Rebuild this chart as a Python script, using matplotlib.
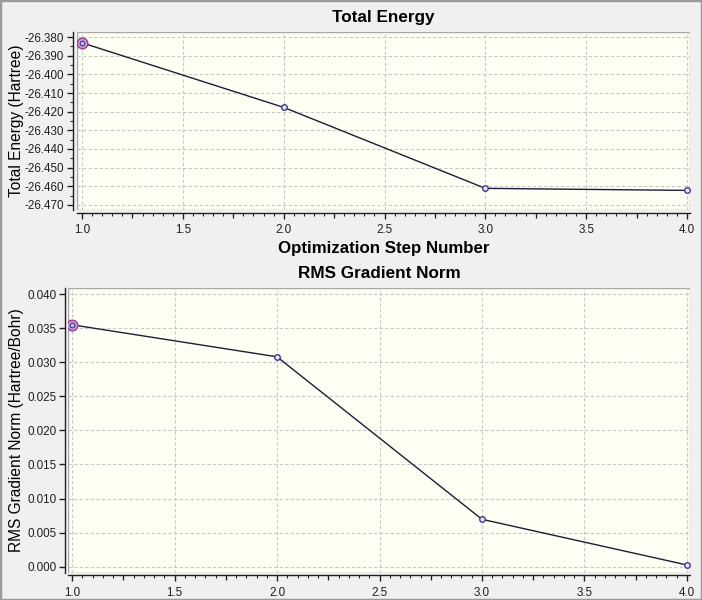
import matplotlib
matplotlib.use("Agg")
import matplotlib.pyplot as plt
from matplotlib.patches import Rectangle
from matplotlib.ticker import MultipleLocator, FormatStrFormatter, NullLocator, NullFormatter
from matplotlib.transforms import blended_transform_factory

plt.rcParams['font.family'] = ['Liberation Sans', 'DejaVu Sans']

steps = [1, 2, 3, 4]
energy = [-26.3831, -26.4177, -26.4611, -26.4622]
rms_grad = [0.0355, 0.0308, 0.00695, 0.00025]

title_top = "Total Energy"
title_bot = "RMS Gradient Norm"
xlabel_top = "Optimization Step Number"
ylabel_top = "Total Energy (Hartree)"
ylabel_bot = "RMS Gradient Norm (Hartree/Bohr)"

W, H = 702, 600
fig = plt.figure(figsize=(W / 100, H / 100), dpi=100)
fig.patch.set_facecolor('#f0f0f0')
fig.add_artist(Rectangle((0, 0), 1, 1, transform=fig.transFigure, fill=False,
                         edgecolor='#9a9a9a', linewidth=2.5))

def px(l, t, r, b):
    return [l / W, 1 - b / H, (r - l) / W, (b - t) / H]

ax1 = fig.add_axes(px(77, 32, 690, 210))
ax2 = fig.add_axes(px(68, 288, 690, 573))

line_col = '#1c1c3a'
pt_col = '#3a3a9a'
first_col = '#a0409a'
tick_col = '#202020'
TS = 8.4

def style(ax, off_left, off_bottom):
    ax.set_facecolor('none')
    ax.add_patch(Rectangle((0, 0), 1, 1, transform=ax.transAxes, facecolor='#fffff4',
                           edgecolor='#a8a8a8', linewidth=1.0, zorder=0))
    for s in ['top', 'right']:
        ax.spines[s].set_visible(False)
    ax.spines['left'].set_position(('outward', off_left))
    ax.spines['bottom'].set_position(('outward', off_bottom))
    for s in ['left', 'bottom']:
        ax.spines[s].set_color(tick_col)
        ax.spines[s].set_linewidth(1.0)
    ax.grid(True, which='major', linestyle=(0, (3, 2)), color='#c8c8c8', linewidth=0.8)
    ax.set_axisbelow(True)
    ax.xaxis.set_major_locator(MultipleLocator(0.5))
    ax.xaxis.set_minor_locator(MultipleLocator(0.05))
    ax.xaxis.set_major_formatter(FormatStrFormatter('%.1f'))
    ax.tick_params(axis='both', which='major', labelsize=TS, colors=tick_col,
                   length=4.0, width=1.0, pad=2.5)
    ax.tick_params(axis='x', which='major', length=4.5, pad=3.6)
    ax.tick_params(axis='x', which='minor', length=2.3, width=0.8, colors=tick_col)
    sec = ax.secondary_xaxis('bottom')
    sec.spines['bottom'].set_position(('outward', off_bottom))
    sec.spines['bottom'].set_visible(False)
    sec.set_xticks([1.25, 1.75, 2.25, 2.75, 3.25, 3.75])
    sec.xaxis.set_major_formatter(NullFormatter())
    sec.xaxis.set_minor_locator(NullLocator())
    sec.tick_params(axis='x', which='major', length=3.3, width=0.9, colors=tick_col)

def plot_series(ax, x, y):
    ax.plot(x, y, color=line_col, linewidth=1.0, zorder=3)
    ax.plot(x[1:], y[1:], linestyle='none', marker='o', markersize=4,
            markerfacecolor='#e8e8ff', markeredgecolor=pt_col, markeredgewidth=1.0, zorder=4)
    ax.plot(x[:1], y[:1], linestyle='none', marker='o', markersize=7.5,
            markerfacecolor='#d8b8e0', markeredgecolor=first_col, markeredgewidth=1.2, zorder=4)
    ax.plot(x[:1], y[:1], linestyle='none', marker='o', markersize=3.5,
            markerfacecolor='none', markeredgecolor=pt_col, markeredgewidth=0.9, zorder=5)

# Top panel
style(ax1, 3.1, 2.2)
plot_series(ax1, steps, energy)
ax1.set_xlim(0.975, 4.015)
ax1.set_ylim(-26.4727, -26.3773)
ax1.yaxis.set_major_locator(MultipleLocator(0.010))
ax1.yaxis.set_minor_locator(MultipleLocator(0.005))
ax1.tick_params(axis='y', which='minor', length=2.3, width=0.8, colors=tick_col)
ax1.yaxis.set_major_formatter(FormatStrFormatter('%.3f'))
ax1.set_title(title_top, fontsize=12.3, fontweight='bold', pad=7)
ax1.set_xlabel(xlabel_top, fontsize=12.2, fontweight='bold', labelpad=3.5)
ax1.set_ylabel(ylabel_top, fontsize=11.2)
ax1.yaxis.set_label_coords(24 / W, 0.5,
                           transform=blended_transform_factory(fig.transFigure, ax1.transAxes))

# Bottom panel
style(ax2, 2.0, 1.7)
plot_series(ax2, steps, rms_grad)
ax2.set_xlim(0.98, 4.015)
ax2.set_ylim(-0.00093, 0.0409)
ax2.yaxis.set_major_locator(MultipleLocator(0.005))
ax2.yaxis.set_major_formatter(FormatStrFormatter('%.3f'))
ax2.set_title(title_bot, fontsize=12.3, fontweight='bold', pad=7)
ax2.set_ylabel(ylabel_bot, fontsize=11.2)
ax2.yaxis.set_label_coords(24 / W, 0.5,
                           transform=blended_transform_factory(fig.transFigure, ax2.transAxes))

fig.savefig('out.png', dpi=100, facecolor=fig.get_facecolor())
